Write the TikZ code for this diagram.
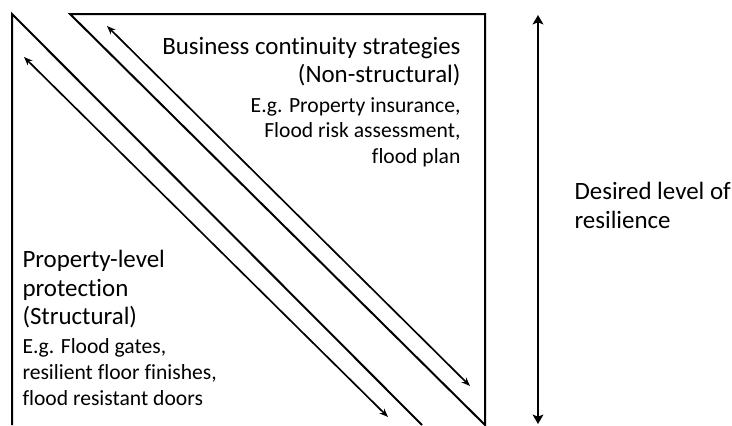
\documentclass[tikz,border=0pt]{standalone}
\usepackage{fontspec}
\setmainfont[Ligatures=NoCommon]{Carlito}
\usetikzlibrary{arrows.meta,positioning}
\tikzset{every picture/.style={line width=0.75pt}}
\tikzset{
  frame/.style={line width=1.5pt},
  shiftarrow/.style={line width=1.25pt,{Stealth[length=6.5pt,width=5pt]}-{Stealth[length=6.5pt,width=5pt]}},
  levelarrow/.style={line width=1.5pt,{Stealth[length=7pt,width=8pt,inset=1.5pt]}-{Stealth[length=7pt,width=8pt,inset=1.5pt]}},
  headtext/.style={inner sep=0pt,font=\fontsize{18.7}{21.2}\selectfont},
  exampletext/.style={inner sep=0pt,font=\fontsize{16.2}{19.2}\selectfont},
}

\begin{document}
\begin{tikzpicture}[x=0.75pt,y=0.75pt,yscale=-1,xscale=1]
\useasboundingbox (0,0) rectangle (732,425);

%Corners of the two triangles
\coordinate (lowtop) at (12,14);
\coordinate (lowbot) at (12,425);
\coordinate (lowend) at (422,425);
\coordinate (uptop) at (70,14);
\coordinate (upright) at (485,14);
\coordinate (upbot) at (485,425);
%Ends of the arrows
\coordinate (uparrA) at (107,26);
\coordinate (uparrB) at (470,386);
\coordinate (lowarrA) at (24,57);
\coordinate (lowarrB) at (388,417);
\coordinate (levtop) at (538,15);
\coordinate (levbot) at (538,424);

%Shape: lower triangle (structural)
\draw [frame] (lowbot) -- (lowtop) -- (lowend) ;
%Shape: upper triangle (non-structural)
\draw [frame] (uptop) -- (upright) -- (upbot) -- cycle ;

%Straight Lines: shifting arrows
\draw [shiftarrow] (uparrA) -- (uparrB) ;
\draw [shiftarrow] (lowarrA) -- (lowarrB) ;
%Straight Lines: level of resilience
\draw [levelarrow] (levtop) -- (levbot) ;

% Text Node
\draw (461,37) node (bcs) [headtext, anchor=north east, align=right] {Business continuity strategies\\(Non-structural)};
% Text Node
\node (bcsex) [exampletext, below left=7.5pt and 0pt of bcs.south east, align=right] {E.g. Property insurance,\\Flood risk assessment,\\flood plan};
% Text Node
\draw (22,250) node (plp) [headtext, anchor=north west, align=left] {Property-level\\protection\\(Structural)};
% Text Node
\node (plpex) [exampletext, below right=7.5pt and 0pt of plp.south west, align=left] {E.g. Flood gates,\\resilient floor finishes,\\flood resistant doors};
% Text Node
\draw (574,182) node (dlr) [headtext, anchor=north west, align=left] {Desired level of\\resilience};

\end{tikzpicture}
\end{document}
